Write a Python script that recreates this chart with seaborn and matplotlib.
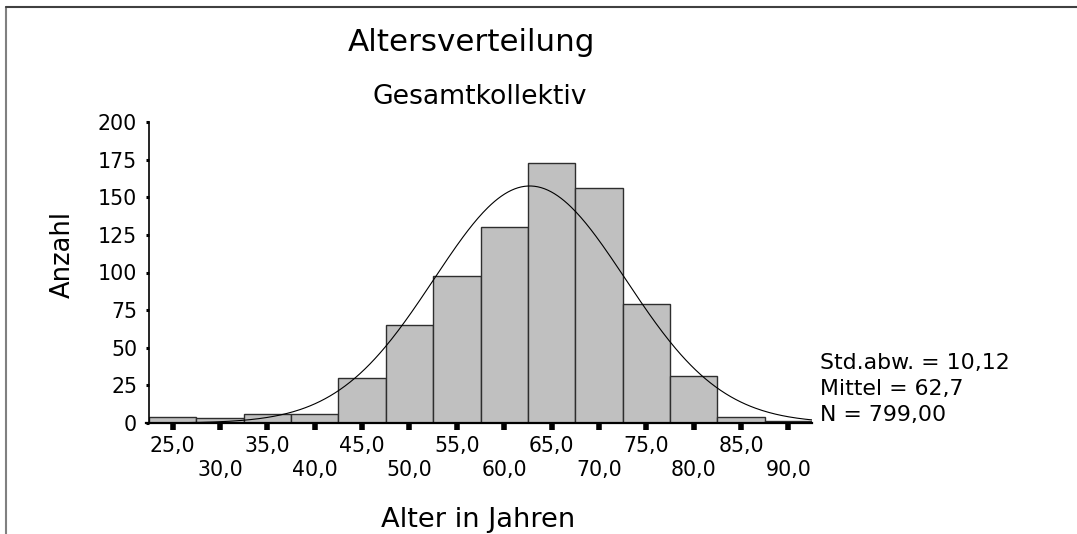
import numpy as np
import pandas as pd
import matplotlib
matplotlib.use("Agg")
import matplotlib.pyplot as plt
from matplotlib.lines import Line2D
import seaborn as sns

# ---- data ----
bin_centers = [25, 30, 35, 40, 45, 50, 55, 60, 65, 70, 75, 80, 85, 90]
counts = [4, 3, 6, 6, 30, 65, 98, 130, 173, 156, 79, 31, 4, 1]
bin_width = 5
x_tick_values = [25, 30, 35, 40, 45, 50, 55, 60, 65, 70, 75, 80, 85, 90]
x_tick_labels = ["25,0", "30,0", "35,0", "40,0", "45,0", "50,0", "55,0",
                 "60,0", "65,0", "70,0", "75,0", "80,0", "85,0", "90,0"]
y_tick_values = [0, 25, 50, 75, 100, 125, 150, 175, 200]
y_tick_labels = ["0", "25", "50", "75", "100", "125", "150", "175", "200"]
stat_mean = 62.7
stat_sd = 10.12
stat_n = 799
stats_lines = ["Std.abw. = 10,12", "Mittel = 62,7", "N = 799,00"]
title = "Altersverteilung"
subtitle = "Gesamtkollektiv"
xlabel = "Alter in Jahren"
ylabel = "Anzahl"

sns.set_theme(style="white")
plt.rcParams["font.family"] = ["DejaVu Sans"]

W, H = 1077, 534
fig = plt.figure(figsize=(W / 100, H / 100), dpi=100)
fig.patch.set_facecolor("white")

def fx(px):
    return px / W

def fy(py):
    return 1 - py / H

ax = fig.add_axes([fx(149), fy(423), fx(812) - fx(149), fy(122) - fy(423)])
ax.set_facecolor("white")

df = pd.DataFrame({"age": bin_centers, "count": counts})
lo = bin_centers[0] - bin_width / 2
hi = bin_centers[-1] + bin_width / 2
sns.histplot(data=df, x="age", weights="count", binwidth=bin_width,
             binrange=(lo, hi), color="#c0c0c0", edgecolor="#2e2e2e",
             linewidth=1.0, alpha=1.0, ax=ax)

# normal curve from the stated mean / sd / N
xs = np.linspace(lo, hi, 400)
ys = stat_n * bin_width / (stat_sd * np.sqrt(2 * np.pi)) * np.exp(-0.5 * ((xs - stat_mean) / stat_sd) ** 2)
sns.lineplot(x=xs, y=ys, color="black", linewidth=0.8, ax=ax)

ax.set_xlim(lo, hi)
ax.set_ylim(0, 200)

# spines
for s in ["top", "right"]:
    ax.spines[s].set_visible(False)
ax.spines["left"].set_color("black")
ax.spines["left"].set_linewidth(1.2)
ax.spines["bottom"].set_color("black")
ax.spines["bottom"].set_linewidth(1.6)
ax.spines["bottom"].set_bounds(lo - 0.3, hi)

# x ticks: alternating rows
ax.set_xticks(x_tick_values[0::2])
ax.set_xticklabels(x_tick_labels[0::2])
ax.set_xticks(x_tick_values[1::2], minor=True)
ax.set_xticklabels(x_tick_labels[1::2], minor=True)
ax.tick_params(axis="x", which="major", direction="out", length=5, width=4,
               color="black", pad=4, labelsize=14.8, labelcolor="black", bottom=True)
ax.tick_params(axis="x", which="minor", direction="out", length=5, width=4,
               color="black", pad=21.5, labelsize=14.8, labelcolor="black", bottom=True)

ax.set_yticks(y_tick_values)
ax.set_yticklabels(y_tick_labels)
ax.tick_params(axis="y", direction="out", length=2.5, width=2.2, color="black",
               pad=6, labelsize=14.8, labelcolor="black", left=True)

ax.set_xlabel("")
ax.set_ylabel("")
ax.grid(False)

# titles and labels
fig.text(fx(471), fy(50.7), title, ha="center", va="baseline", fontsize=22.3, color="black")
fig.text(fx(480), fy(103.5), subtitle, ha="center", va="baseline", fontsize=19.2, color="black")
fig.text(fx(478), fy(527), xlabel, ha="center", va="baseline", fontsize=19.6, color="black")
fig.text(fx(63), fy(255), ylabel, ha="center", va="center", rotation=90, fontsize=18.5, color="black")

for i, line in enumerate(stats_lines):
    fig.text(fx(820), fy(369.3 + 25.7 * i), line, ha="left", va="baseline", fontsize=15.8, color="black")

# outer frame (left and top only, as in the reference)
fig.add_artist(Line2D([fx(5.5), fx(5.5)], [0, fy(6.5)], transform=fig.transFigure,
                      color="#808080", linewidth=1.5))
fig.add_artist(Line2D([fx(5.5), 1], [fy(6.5), fy(6.5)], transform=fig.transFigure,
                      color="#404040", linewidth=1.5))

fig.savefig("out.png", dpi=100, facecolor="white")
